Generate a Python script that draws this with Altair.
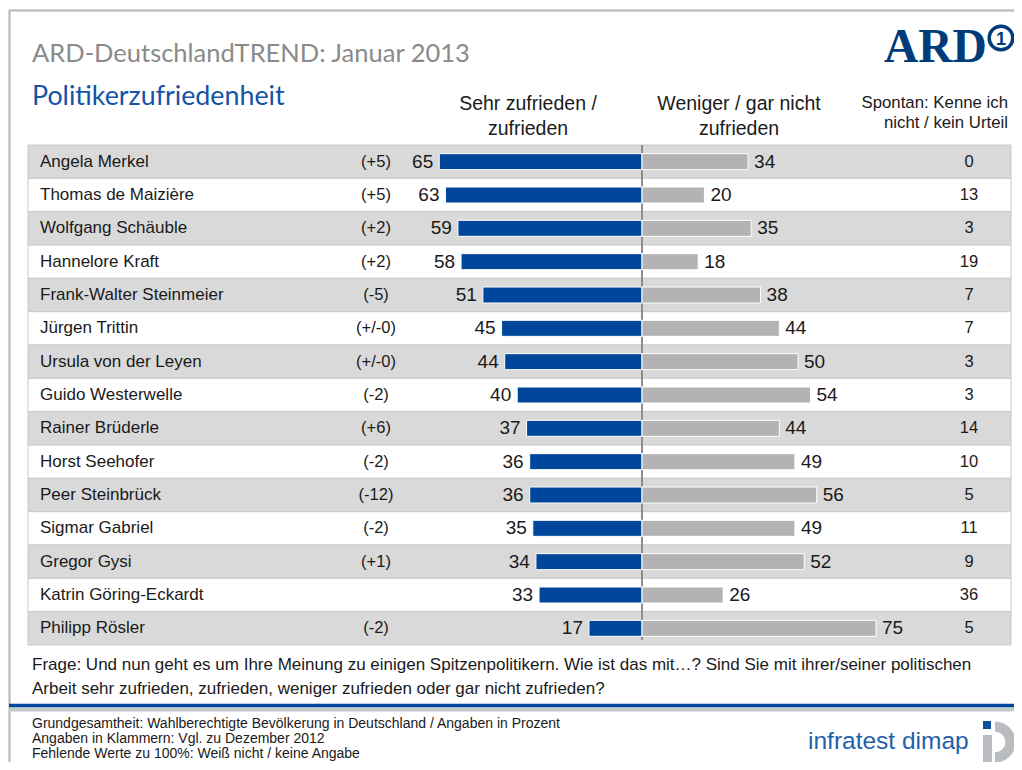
import altair as alt
import pandas as pd

names = ["Angela Merkel", "Thomas de Maizière", "Wolfgang Schäuble", "Hannelore Kraft",
         "Frank-Walter Steinmeier", "Jürgen Trittin", "Ursula von der Leyen", "Guido Westerwelle",
         "Rainer Brüderle", "Horst Seehofer", "Peer Steinbrück", "Sigmar Gabriel",
         "Gregor Gysi", "Katrin Göring-Eckardt", "Philipp Rösler"]
satisfied = [65, 63, 59, 58, 51, 45, 44, 40, 37, 36, 36, 35, 34, 33, 17]
dissatisfied = [34, 20, 35, 18, 38, 44, 50, 54, 44, 49, 56, 49, 52, 26, 75]
no_opinion = [0, 13, 3, 19, 7, 7, 3, 3, 14, 10, 5, 11, 9, 36, 5]
change = ["(+5)", "(+5)", "(+2)", "(+2)", "(-5)", "(+/-0)", "(+/-0)", "(-2)", "(+6)",
          "(-2)", "(-12)", "(-2)", "(+1)", "", "(-2)"]

df = pd.DataFrame({"name": names, "sat": satisfied, "unsat": dissatisfied,
                   "unk": no_opinion, "chg": change})
df["row"] = list(range(len(df)))

W, H = 1006, 754
BLUE = "#00469b"
GRAYBAR = "#b3b3b3"
ARDBLUE = "#003b7a"
SANS = "Liberation Sans"
TXT = "#1a1a1a"

xs = alt.Scale(domain=[-203.21, 119.23], nice=False, zero=False)
ys = alt.Scale(domain=[-4.61, 18.01], nice=False, zero=False, reverse=True)

base = alt.Chart(df).transform_calculate(
    neg="-datum.sat", zero="0", y0="datum.row - 0.5", y1="datum.row + 0.5",
    b0="datum.row - 0.24", b1="datum.row + 0.24", top="-0.5", bot="14.35")

bands = base.mark_rect(stroke="#c9c9c9", strokeWidth=1).encode(
    x=alt.value(20), x2=alt.value(1003),
    y=alt.Y("y0:Q", scale=ys, axis=None), y2="y1:Q",
    fill=alt.condition("datum.row % 2 == 0", alt.value("#d9d9d9"), alt.value("#ffffff")))

center = base.mark_rule(color="#8c8c8c", strokeWidth=1).encode(
    x=alt.X("zero:Q", scale=xs, axis=None),
    y=alt.Y("top:Q", scale=ys, axis=None), y2="bot:Q")

blue_bars = base.mark_rect(color=BLUE, stroke="white", strokeWidth=1).encode(
    x=alt.X("neg:Q", scale=xs, axis=None), x2="zero:Q",
    y=alt.Y("b0:Q", scale=ys, axis=None), y2="b1:Q")

gray_bars = base.mark_rect(color=GRAYBAR, stroke="white", strokeWidth=1).encode(
    x=alt.X("zero:Q", scale=xs, axis=None), x2="unsat:Q",
    y=alt.Y("b0:Q", scale=ys, axis=None), y2="b1:Q")

blue_lab = base.mark_text(align="right", baseline="middle", dx=-6, fontSize=19,
                          font=SANS, color=TXT).encode(
    x=alt.X("neg:Q", scale=xs, axis=None), y=alt.Y("row:Q", scale=ys, axis=None), text="sat:Q")

gray_lab = base.mark_text(align="left", baseline="middle", dx=6, fontSize=19,
                          font=SANS, color=TXT).encode(
    x=alt.X("unsat:Q", scale=xs, axis=None), y=alt.Y("row:Q", scale=ys, axis=None), text="unsat:Q")

name_lab = base.mark_text(align="left", baseline="middle", fontSize=17, font=SANS,
                          color=TXT).encode(
    x=alt.value(32), y=alt.Y("row:Q", scale=ys, axis=None), text="name:N")

chg_lab = base.mark_text(align="center", baseline="middle", fontSize=16.5, font=SANS,
                         color=TXT).encode(
    x=alt.value(368), y=alt.Y("row:Q", scale=ys, axis=None), text="chg:N")

unk_lab = base.mark_text(align="center", baseline="middle", fontSize=16.5, font=SANS,
                         color=TXT).encode(
    x=alt.value(961), y=alt.Y("row:Q", scale=ys, axis=None), text="unk:Q")


def one():
    return alt.Chart(pd.DataFrame({"v": [0]}))


def label(text, x, y, size, color=TXT, font=SANS, align="left", weight="normal"):
    return alt.Chart(pd.DataFrame({"t": [text]})).mark_text(
        align=align, baseline="alphabetic", fontSize=size, font=font, color=color,
        fontWeight=weight).encode(x=alt.value(x), y=alt.value(y), text="t:N")


def hline(x1, x2, y, color, width):
    return one().mark_rule(color=color, strokeWidth=width).encode(
        x=alt.value(x1), x2=alt.value(x2), y=alt.value(y))


def vline(x, y1, y2, color, width):
    return one().mark_rule(color=color, strokeWidth=width).encode(
        x=alt.value(x), y=alt.value(y1), y2=alt.value(y2))


texts = [
    label("ARD-DeutschlandTREND: Januar 2013", 24, 54, 25.5, color="#8a8a8a", font="Lato"),
    label("Politikerzufriedenheit", 24, 97, 26.8, color="#1553a5", font="Lato"),
    label("Sehr zufrieden /", 520, 102, 19.5, align="center"),
    label("zufrieden", 520, 127, 19.5, align="center"),
    label("Weniger / gar nicht", 731, 102, 19.5, align="center"),
    label("zufrieden", 731, 127, 19.5, align="center"),
    label("Spontan: Kenne ich", 1000, 100, 16.8, align="right"),
    label("nicht / kein Urteil", 1000, 120, 16.8, align="right"),
    label("Frage: Und nun geht es um Ihre Meinung zu einigen Spitzenpolitikern. Wie ist das mit…? "
          "Sind Sie mit ihrer/seiner politischen", 24, 662, 17),
    label("Arbeit sehr zufrieden, zufrieden, weniger zufrieden oder gar nicht zufrieden?", 24, 686, 17),
    label("Grundgesamtheit: Wahlberechtigte Bevölkerung in Deutschland / Angaben in Prozent", 24, 720, 14),
    label("Angaben in Klammern: Vgl. zu Dezember 2012", 24, 735, 14),
    label("Fehlende Werte zu 100%: Weiß nicht / keine Angabe", 24, 749.5, 14),
    label("infratest dimap", 800, 741, 24.5, color="#1f5fae"),
    label("ARD", 876, 54, 47.5, color=ARDBLUE, font="Liberation Serif", weight="bold"),
]

one_circle = one().mark_point(
    shape="circle", size=560, fill="white", stroke=ARDBLUE, strokeWidth=3.5, opacity=1).encode(
    x=alt.value(993), y=alt.value(30))
one_text = label("1", 993, 37, 18, color=ARDBLUE, align="center", weight="bold")

idm_sq = one().mark_rect(color="#0e4f9e").encode(
    x=alt.value(975), x2=alt.value(983), y=alt.value(713), y2=alt.value(721))
idm_bar = one().mark_rect(color="#b9bdc1").encode(
    x=alt.value(975), x2=alt.value(984), y=alt.value(727), y2=alt.value(754))
idm_d = one().mark_point(
    shape="M 0 -1 A 1 1 0 0 1 0 1 L 0 0.5 A 0.5 0.5 0 0 0 0 -0.5 Z",
    size=1700, filled=True, color="#b9bdc1", opacity=1).encode(
    x=alt.value(987), y=alt.value(734))

frame = [
    hline(1, W, 2.5, "#b5b5b5", 2),
    vline(1.5, 2, H, "#b5b5b5", 2),
    hline(1, W, 701.5, "#c3c8cd", 4),
    hline(1, W, 697.5, BLUE, 3.5),
]

chart = alt.layer(
    bands, center, blue_bars, gray_bars, blue_lab, gray_lab, name_lab, chg_lab, unk_lab,
    *frame, *texts, one_circle, one_text, idm_sq, idm_bar, idm_d
).properties(
    width=W, height=H, padding=0, background="white",
    autosize=alt.AutoSizeParams(type="none")
).configure_view(stroke=None)

chart.save("out.html", embed_options={"renderer": "svg", "actions": False})
